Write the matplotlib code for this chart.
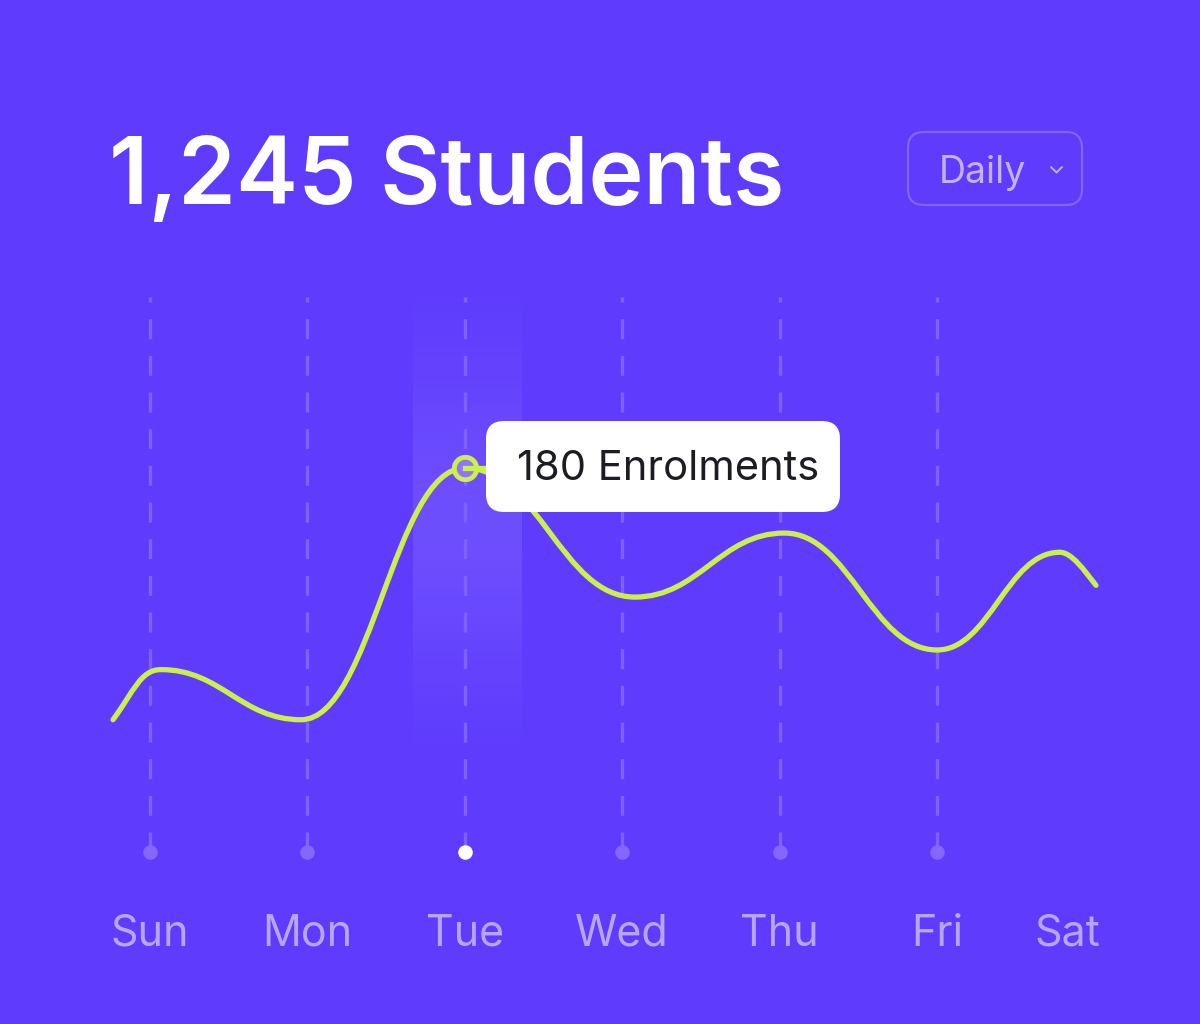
import numpy as np
import matplotlib
matplotlib.use("Agg")
import matplotlib.pyplot as plt
from matplotlib.path import Path
from matplotlib.patches import PathPatch, FancyBboxPatch

# ---------------- data ----------------
days = ["Sun", "Mon", "Tue", "Wed", "Thu", "Fri", "Sat"]
day_pos = [0, 1, 2, 3, 4, 5, 5.83]          # label positions on x (day units)
grid_days = [0, 1, 2, 3, 4, 5]               # dashed guide lines
# curve key points (start, alternating peaks / troughs, end)
curve_x = [-0.235, 0.07, 0.96, 2.0, 3.08, 4.03, 5.0, 5.78, 6.01]
curve_y = [62, 85.5, 62, 180, 119.5, 149.5, 94.7, 140.5, 125]
highlight_day = 2
highlight_value = 180
title = "1,245 Students"
tooltip = "180 Enrolments"
period = "Daily"

# ---------------- style ----------------
BG = "#5E3BFD"
LIME = "#CBEF4B"
GUIDE = "#7E61FF"
DOT = "#8467FF"
LABEL = "#B7A6FF"

plt.rcParams['font.family'] = ['Inter', 'DejaVu Sans']

W, H = 1200, 1024
fig = plt.figure(figsize=(W / 100, H / 100), dpi=100, facecolor=BG)

# data axes covering whole figure: day d -> px 150 + 157.4 d ; value v -> px 852 - k v
ax = fig.add_axes([0, 0, 1, 1])
ax.set_facecolor(BG)
k = 384 / 180
ax.set_xlim(-150 / 157.4, (W - 150) / 157.4)
ax.set_ylim((852 - H) / k, 852 / k)
ax.axis("off")

# highlight band around Tue
ny = 200
yy = np.linspace(0, 1, ny)
prof = np.exp(-((yy - 0.55) / 0.30) ** 2)
img = np.zeros((ny, 2, 4))
img[..., :3] = 1.0
img[..., 3] = (0.10 * prof)[:, None]
ax.imshow(img, extent=(highlight_day - 0.33, highlight_day + 0.36, 24, 263),
          origin="lower", aspect="auto", zorder=1, interpolation="bilinear")

# guide lines and dots
for d in grid_days:
    ax.plot([d, d], [0, 260], color=GUIDE, lw=2.4, ls=(0, (6, 5)), zorder=2,
            solid_capstyle="butt", dash_capstyle="butt")
    ax.scatter([d], [0], s=110, color="white" if d == highlight_day else DOT,
               zorder=3, linewidths=0)

# smooth curve: Bezier segments with flat tangents at the peaks/troughs
X = np.asarray(curve_x, float)
Y = np.asarray(curve_y, float)
n = len(X)
m = np.zeros(n)
m[0] = 1.3 * (Y[1] - Y[0]) / (X[1] - X[0])
m[-1] = 1.4 * (Y[-1] - Y[-2]) / (X[-1] - X[-2])
verts = [(X[0], Y[0])]
codes = [Path.MOVETO]
for i in range(n - 1):
    a = 0.33 if i == n - 2 else 0.43
    h = X[i + 1] - X[i]
    verts += [(X[i] + a * h, Y[i] + m[i] * a * h),
              (X[i + 1] - a * h, Y[i + 1] - m[i + 1] * a * h),
              (X[i + 1], Y[i + 1])]
    codes += [Path.CURVE4] * 3
ax.add_patch(PathPatch(Path(verts, codes), fill=False, edgecolor=LIME, lw=3.8,
                       capstyle="round", joinstyle="round", zorder=4))

# overlay axes in pixel coordinates for decorations
ov = fig.add_axes([0, 0, 1, 1], facecolor="none")
ov.set_xlim(0, W)
ov.set_ylim(H, 0)
ov.axis("off")

# title
ov.text(109, 180, title, color="white", fontsize=67, fontweight="semibold",
        ha="left", va="center")

# dropdown
ov.add_patch(FancyBboxPatch((908, 132), 174, 73, boxstyle="round,pad=0,rounding_size=16",
                            fc="none", ec="#8068FF", lw=1.6))
ov.text(939, 173, period, color="#C2B3FF", fontsize=27, ha="left", va="center")
ov.plot([1051, 1056.5, 1062], [167, 172.5, 167], color="#C2B3FF", lw=1.4,
        solid_capstyle="round")

# tooltip connector & box
px_t = 150 + 157.4 * highlight_day
py_t = 852 - k * highlight_value
ov.plot([px_t, 490], [py_t, py_t], color=LIME, lw=3.8, zorder=5)
ov.add_patch(FancyBboxPatch((486, 421), 354, 91, boxstyle="round,pad=0,rounding_size=18",
                            fc="white", ec="none", zorder=6))
ov.text(517, 469, tooltip, color="#1C1C22", fontsize=30, ha="left", va="center", zorder=7)

# highlight marker
ax.scatter([highlight_day], [highlight_value], s=260, facecolor="#8E74FF",
           edgecolor=LIME, linewidths=3.5, zorder=8)

# day labels
for d, lab in zip(day_pos, days):
    ax.text(d, (852 - 934) / k, lab, color=LABEL, fontsize=31, ha="center", va="center")

fig.savefig("out.png", dpi=100, facecolor=BG)
